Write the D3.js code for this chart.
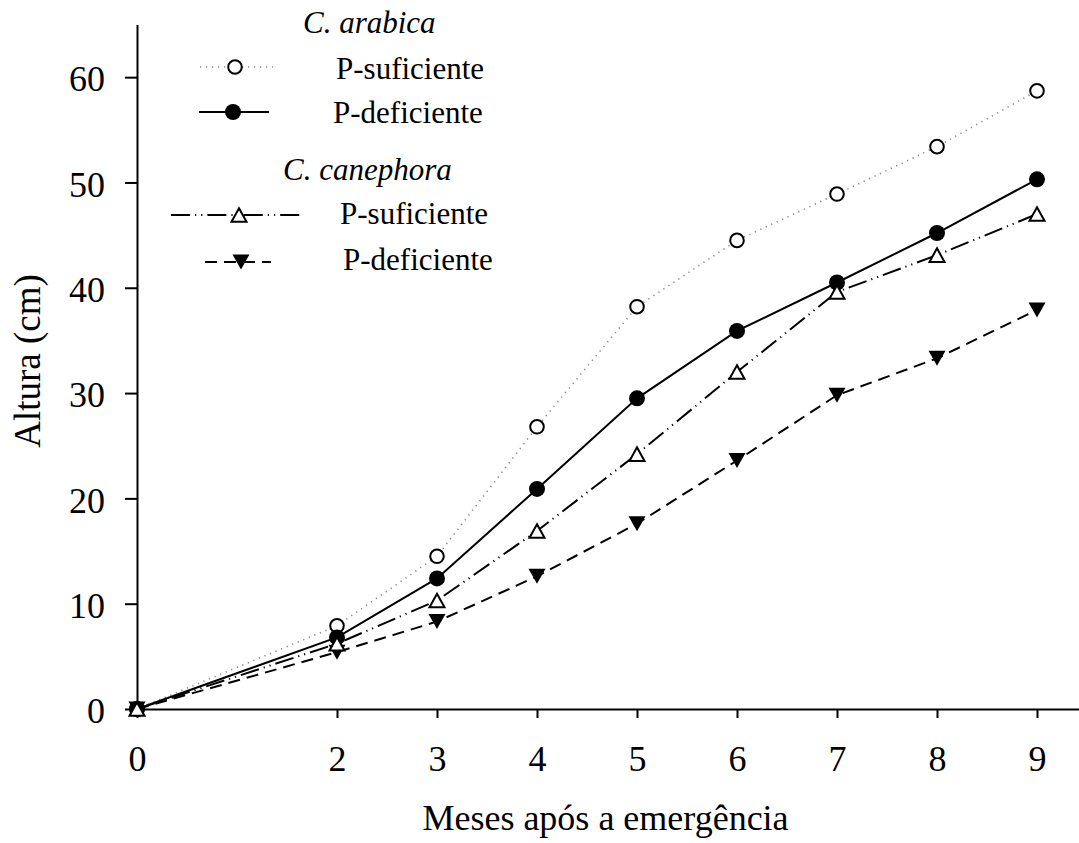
<!DOCTYPE html>
<html>
<head>
<meta charset="utf-8">
<script src="https://cdn.jsdelivr.net/npm/d3@7"></script>
<style>
  html, body { margin: 0; padding: 0; background: #fff; }
  svg { display: block; font-family: "Liberation Serif", "Times New Roman", serif; }
</style>
</head>
<body>
<svg id="chart" width="1079" height="843"></svg>
<script>
// Months after emergence
const months = [0, 2, 3, 4, 5, 6, 7, 8, 9];
const xTicks = [0, 2, 3, 4, 5, 6, 7, 8, 9];
const yTicks = [0, 10, 20, 30, 40, 50, 60];

// Plant height (cm)
const arabicaSuficiente  = [0, 7.9, 14.5, 26.8, 38.2, 44.5, 48.9, 53.4, 58.7];
const arabicaDeficiente  = [0, 6.8, 12.4, 20.9, 29.5, 35.9, 40.5, 45.2, 50.3];
const canephoraSuficiente = [0, 6.2, 10.3, 16.9, 24.2, 32.0, 39.6, 43.1, 47.0];
const canephoraDeficiente = [0, 5.4, 8.3, 12.6, 17.6, 23.6, 29.8, 33.3, 37.9];

const series = [
  { key: "as", values: arabicaSuficiente, marker: "openCircle", line: "dotted" },
  { key: "ad", values: arabicaDeficiente, marker: "filledCircle", line: "solid" },
  { key: "cd", values: canephoraDeficiente, marker: "downTriangle", line: "dashed" },
  { key: "cs", values: canephoraSuficiente, marker: "upTriangle", line: "dashdot" }
];

const svg = d3.select("#chart");
const x = d3.scaleLinear().domain([0, 9.42]).range([137, 1079]);
const y = d3.scaleLinear().domain([0, 65]).range([709, 24.5]);

// Line styles
function styleLine(sel, kind) {
  sel.attr("fill", "none");
  if (kind === "solid") {
    sel.attr("stroke", "#000").attr("stroke-width", 2);
  } else if (kind === "dotted") {
    sel.attr("stroke", "#888").attr("stroke-width", 1.6).attr("stroke-dasharray", "1.2,4.8");
  } else if (kind === "dashed") {
    sel.attr("stroke", "#000").attr("stroke-width", 2).attr("stroke-dasharray", "12,7");
  } else if (kind === "dashdot") {
    sel.attr("stroke", "#000").attr("stroke-width", 2).attr("stroke-dasharray", "19,5,1.2,5,1.2,5");
  }
}

function drawMarker(g, kind, cx, cy) {
  if (kind === "openCircle") {
    g.append("circle").attr("cx", cx).attr("cy", cy).attr("r", 6.8)
      .attr("fill", "#fff").attr("stroke", "#000").attr("stroke-width", 2);
  } else if (kind === "filledCircle") {
    g.append("circle").attr("cx", cx).attr("cy", cy).attr("r", 8)
      .attr("fill", "#000");
  } else if (kind === "upTriangle") {
    const w = 7.5, h = 6.8;
    g.append("path").attr("d", `M${cx},${cy - h} L${cx + w},${cy + h} L${cx - w},${cy + h} Z`)
      .attr("fill", "#fff").attr("stroke", "#000").attr("stroke-width", 2).attr("stroke-linejoin", "miter");
  } else if (kind === "downTriangle") {
    const w = 8.5, h = 7.5;
    g.append("path").attr("d", `M${cx - w},${cy - h} L${cx + w},${cy - h} L${cx},${cy + h} Z`)
      .attr("fill", "#000");
  }
}

// Axes
const xAxis = d3.axisBottom(x).tickValues(xTicks).tickSize(9).tickSizeOuter(0);
const yAxis = d3.axisLeft(y).tickValues(yTicks).tickSize(12).tickSizeOuter(0).tickPadding(20);

const gx = svg.append("g").attr("transform", `translate(0,${y(0)})`).call(xAxis);
const gy = svg.append("g").attr("transform", `translate(${x(0)},0)`).call(yAxis);
[gx, gy].forEach(g => {
  g.select(".domain").attr("stroke", "#000").attr("stroke-width", 2);
  g.selectAll(".tick line").attr("stroke", "#000").attr("stroke-width", 2);
  g.selectAll(".tick text").attr("fill", "#000").attr("font-family", "Liberation Serif")
    .attr("font-size", 36);
});
gx.selectAll(".tick text").attr("y", 62).attr("dy", 0);
gy.selectAll(".tick text").attr("dy", "0.38em");

// Axis titles
svg.append("text").attr("x", 605.5).attr("y", 830).attr("text-anchor", "middle")
  .attr("font-size", 36).text("Meses após a emergência");
svg.append("text").attr("transform", "translate(40,361) rotate(-90)").attr("text-anchor", "middle")
  .attr("font-size", 37).text("Altura (cm)");

// Series lines
const line = d3.line().x((d, i) => x(months[i])).y(d => y(d));
const linesG = svg.append("g");
series.forEach(s => {
  linesG.append("path").datum(s.values).attr("d", line).call(styleLine, s.line);
});

// Series markers
const marksG = svg.append("g");
series.forEach(s => {
  s.values.forEach((v, i) => drawMarker(marksG, s.marker, x(months[i]), y(v)));
});

// Legend
const legend = svg.append("g").attr("font-size", 31);
legend.append("text").attr("x", 303).attr("y", 33).attr("font-style", "italic").text("C. arabica");
legend.append("text").attr("x", 283).attr("y", 180).attr("font-style", "italic").text("C. canephora");

const legendRows = [
  { s: series[0], y: 67, x1: 200, x2: 273, mx: 235, tx: 336, ty: 79, label: "P-suficiente" },
  { s: series[1], y: 112, x1: 199, x2: 269, mx: 233, tx: 333, ty: 123, label: "P-deficiente" },
  { s: series[3], y: 215, x1: 171, x2: 300, mx: 239, tx: 340, ty: 224, label: "P-suficiente" },
  { s: series[2], y: 262, x1: 205, x2: 271, mx: 241, tx: 343, ty: 270, label: "P-deficiente" }
];
legendRows.forEach(r => {
  legend.append("line").attr("x1", r.x1).attr("x2", r.x2).attr("y1", r.y).attr("y2", r.y)
    .call(styleLine, r.s.line);
  drawMarker(legend, r.s.marker, r.mx, r.y);
  legend.append("text").attr("x", r.tx).attr("y", r.ty).text(r.label);
});
</script>
</body>
</html>
